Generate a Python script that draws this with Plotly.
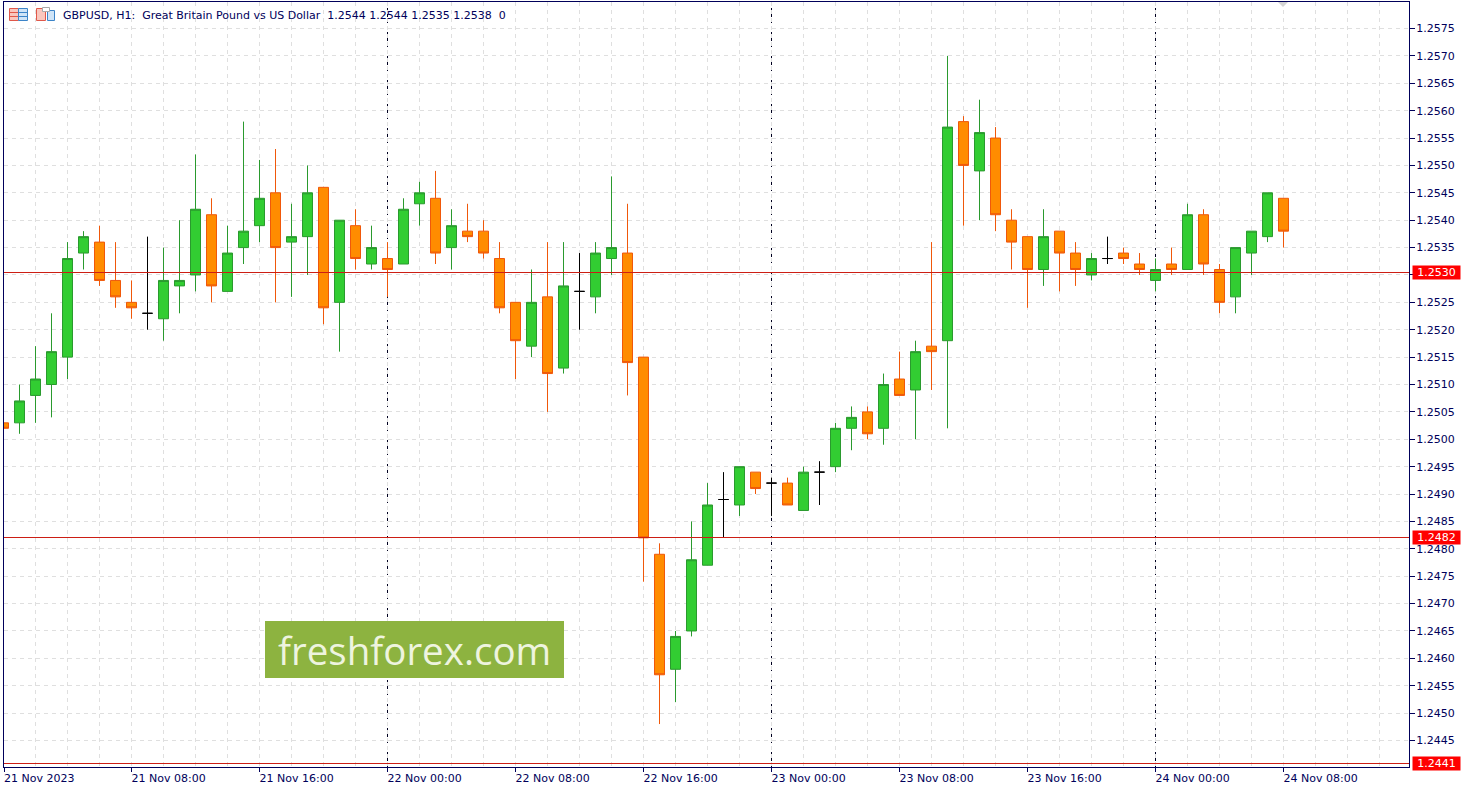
import plotly.graph_objects as go
from datetime import datetime, timedelta

# ---- data ----
start_time = "2023-11-21 00:00"
opens = [1.2503,1.2503,1.2508,1.2510,1.2515,1.2534,1.2536,1.2529,1.2525,1.2523,1.2522,1.2528,1.2530,1.2541,1.2527,1.2535,1.2539,1.2545,1.2536,1.2537,1.2546,1.2525,1.2539,1.2532,1.2533,
         1.2532,1.2543,1.2544,1.2535,1.2538,1.2538,1.2533,1.2525,1.2517,1.2526,1.2513,1.2527,1.2526,1.2533,1.2534,1.2515,1.2479,1.2458,1.2465,1.2477,1.2489,1.2488,1.2494,1.2492,1.2492,
         1.2487,1.2494,1.2495,1.2502,1.2505,1.2502,1.2511,1.2509,1.2517,1.2518,1.2558,1.2549,1.2555,1.2540,1.2537,1.2531,1.2538,1.2534,1.2530,1.2533,1.2534,1.2532,1.2529,1.2532,1.2531,
         1.2541,1.2531,1.2526,1.2534,1.2537,1.2544]
highs = [1.2503,1.2510,1.2517,1.2523,1.2536,1.2538,1.2539,1.2536,1.2529,1.2537,1.2535,1.2540,1.2552,1.2544,1.2539,1.2558,1.2551,1.2553,1.2543,1.2550,1.2546,1.2540,1.2542,1.2539,1.2536,
         1.2544,1.2547,1.2549,1.2542,1.2543,1.2540,1.2536,1.2525,1.2531,1.2536,1.2536,1.2534,1.2536,1.2548,1.2543,1.2515,1.2481,1.2465,1.2485,1.2492,1.2494,1.2495,1.2494,1.2493,1.2493,
         1.2495,1.2496,1.2503,1.2506,1.2506,1.2512,1.2516,1.2518,1.2536,1.2570,1.2559,1.2562,1.2557,1.2542,1.2537,1.2542,1.2538,1.2536,1.2534,1.2537,1.2535,1.2534,1.2533,1.2535,1.2543,
         1.2542,1.2532,1.2535,1.2538,1.2545,1.2544]
lows = [1.2502,1.2501,1.2503,1.2504,1.2511,1.2531,1.2528,1.2524,1.2522,1.2520,1.2518,1.2523,1.2527,1.2525,1.2527,1.2532,1.2536,1.2525,1.2526,1.2530,1.2521,1.2516,1.2531,1.2531,1.2526,
        1.2532,1.2539,1.2532,1.2531,1.2536,1.2533,1.2523,1.2511,1.2515,1.2505,1.2512,1.2520,1.2523,1.2530,1.2508,1.2474,1.2448,1.2452,1.2464,1.2477,1.2482,1.2486,1.2490,1.2486,1.2488,
        1.2487,1.2488,1.2494,1.2498,1.2500,1.2499,1.2508,1.2500,1.2509,1.2502,1.2539,1.2540,1.2538,1.2531,1.2524,1.2528,1.2527,1.2528,1.2529,1.2532,1.2532,1.2530,1.2527,1.2530,1.2531,
        1.2530,1.2523,1.2523,1.2530,1.2536,1.2535]
closes = [1.2502,1.2507,1.2511,1.2516,1.2533,1.2537,1.2529,1.2526,1.2524,1.2523,1.2529,1.2529,1.2542,1.2528,1.2534,1.2538,1.2544,1.2535,1.2537,1.2545,1.2524,1.2540,1.2533,1.2535,1.2531,
          1.2542,1.2545,1.2534,1.2539,1.2537,1.2534,1.2524,1.2518,1.2525,1.2512,1.2528,1.2527,1.2534,1.2535,1.2514,1.2482,1.2457,1.2464,1.2478,1.2488,1.2489,1.2495,1.2491,1.2492,1.2488,
          1.2494,1.2494,1.2502,1.2504,1.2501,1.2510,1.2508,1.2516,1.2516,1.2557,1.2550,1.2556,1.2541,1.2536,1.2531,1.2537,1.2534,1.2531,1.2533,1.2533,1.2533,1.2531,1.2531,1.2531,1.2541,
          1.2532,1.2525,1.2535,1.2538,1.2545,1.2538]

price_ticks = [1.2445,1.2450,1.2455,1.2460,1.2465,1.2470,1.2475,1.2480,1.2485,1.2490,1.2495,1.2500,1.2505,1.2510,1.2515,1.2520,1.2525,1.2530,1.2535,1.2540,1.2545,1.2550,1.2555,1.2560,1.2565,1.2570,1.2575]
price_labels = ["1.2445","1.2450","1.2455","1.2460","1.2465","1.2470","1.2475","1.2480","1.2485","1.2490","1.2495","1.2500","1.2505","1.2510","1.2515","1.2520","1.2525","","1.2535","1.2540","1.2545","1.2550","1.2555","1.2560","1.2565","1.2570","1.2575"]
time_ticks = ["2023-11-21 00:00","2023-11-21 08:00","2023-11-21 16:00","2023-11-22 00:00","2023-11-22 08:00","2023-11-22 16:00","2023-11-23 00:00","2023-11-23 08:00","2023-11-23 16:00","2023-11-24 00:00","2023-11-24 08:00"]
time_labels = ["21 Nov 2023","21 Nov 08:00","21 Nov 16:00","22 Nov 00:00","22 Nov 08:00","22 Nov 16:00","23 Nov 00:00","23 Nov 08:00","23 Nov 16:00","24 Nov 00:00","24 Nov 08:00"]
day_separators = ["2023-11-22 00:00","2023-11-23 00:00","2023-11-24 00:00"]
level_values = [1.2530449,1.2482062,1.2440798]
level_labels = ["1.2530","1.2482","1.2441"]
header_text = "GBPUSD, H1:\u00a0\u00a0Great Britain Pound vs US Dollar\u00a0\u00a01.2544 1.2544 1.2535 1.2538\u00a0\u00a00"
watermark_text = "freshforex.com"

# ---- page geometry ----
W, H = 1474, 790
L, R, T, B = 4, 1409, 2, 767
def px(x): return (x - L) / (R - L)
def py(y): return (B - y) / (B - T)

NAVY = "#00005A"
GRID = "#DFDFDF"
FONT = "DejaVu Sans"

t0 = datetime.strptime(start_time, "%Y-%m-%d %H:%M")
times = [t0 + timedelta(hours=i) for i in range(len(opens))]
x_start = t0 + timedelta(hours=0.5 / 16)
x_end = x_start + timedelta(hours=(R - L) / 16)
tick_positions = [x_start] + time_ticks[1:]   # the first tick sits on the left edge of the frame

body = [i for i in range(len(opens)) if opens[i] != closes[i]]
doji = [i for i in range(len(opens)) if opens[i] == closes[i]]

def pick(a, idx):
    return [a[i] for i in idx]

fig = go.Figure()
fig.add_trace(go.Candlestick(
    x=pick(times, body), open=pick(opens, body), high=pick(highs, body), low=pick(lows, body), close=pick(closes, body),
    whiskerwidth=0,
    increasing=dict(line=dict(color="#2A9A2E", width=1), fillcolor="#32CD32"),
    decreasing=dict(line=dict(color="#F0580A", width=1), fillcolor="#FF8C00"),
    showlegend=False))
fig.add_trace(go.Candlestick(
    x=pick(times, doji), open=pick(opens, doji), high=pick(highs, doji), low=pick(lows, doji), close=pick(closes, doji),
    whiskerwidth=0,
    increasing=dict(line=dict(color="#000000", width=1), fillcolor="#000000"),
    decreasing=dict(line=dict(color="#000000", width=1), fillcolor="#000000"),
    showlegend=False))

shapes = []
for d in day_separators:
    shapes.append(dict(type="line", xref="x", yref="paper", x0=d, x1=d, y0=0, y1=1, layer="below",
                       line=dict(color="#000020", width=1, dash="3px,3px")))
for v in level_values:
    shapes.append(dict(type="line", xref="paper", yref="y", x0=0, x1=1, y0=v, y1=v, layer="above",
                       line=dict(color="#CC1E14", width=1)))
# watermark plate
shapes.append(dict(type="rect", xref="paper", yref="paper", x0=px(265), x1=px(564), y0=py(678), y1=py(621),
                   layer="above", fillcolor="#8DB340", line=dict(width=0)))
# scroll marker
shapes.append(dict(type="path", xref="paper", yref="paper", layer="above",
                   path=f"M {px(1278)} {py(2)} L {px(1288)} {py(2)} L {px(1283)} {py(7)} Z",
                   fillcolor="#D4D4D4", line=dict(width=0)))
# header icons
def box(x0, y0, x1, y1, fill, line):
    shapes.append(dict(type="rect", xref="paper", yref="paper", x0=px(x0), x1=px(x1), y0=py(y1), y1=py(y0),
                       layer="above", fillcolor=fill, line=dict(color=line, width=1)))
box(9.5, 8.5, 18.5, 20.5, "#F9C7BE", "#E0584A")
box(18.5, 8.5, 27.5, 20.5, "#CFE4F7", "#3C84C8")
for yy in (12.5, 16.5):
    shapes.append(dict(type="line", xref="paper", yref="paper", x0=px(10), x1=px(18), y0=py(yy), y1=py(yy),
                       layer="above", line=dict(color="#E0584A", width=1)))
    shapes.append(dict(type="line", xref="paper", yref="paper", x0=px(19), x1=px(27), y0=py(yy), y1=py(yy),
                       layer="above", line=dict(color="#3C84C8", width=1)))
box(36.5, 8.5, 45.5, 20.5, "#F9C7BE", "#E0584A")
box(47.5, 10.5, 54.5, 20.5, "#CFE4F7", "#3C84C8")
box(42.5, 7.5, 49.5, 11.5, "#FFFFFF", "#A8A8A8")

annotations = [
    dict(text=header_text, xref="paper", yref="paper", x=px(60.5), y=py(15.5), xanchor="left", yanchor="middle",
         showarrow=False, font=dict(family=FONT, size=11, color=NAVY)),
    dict(text=watermark_text, xref="paper", yref="paper", x=px(414.5), y=py(649.5), xanchor="center", yanchor="middle",
         showarrow=False, font=dict(family="Open Sans", size=38.5, color="#EEF4DF")),
]
for v, lab in zip(level_values, level_labels):
    annotations.append(dict(text=lab, xref="paper", yref="y", x=px(1412), y=v, xanchor="left", yanchor="middle",
                            showarrow=False, width=47, height=13, align="center", borderpad=0,
                            bgcolor="#FF0000", font=dict(family=FONT, size=11, color="#FFFFFF")))

top_price = 1.257984
bottom_price = 1.244016

fig.update_layout(
    width=W, height=H, autosize=False,
    margin=dict(l=L, r=W - R, t=T, b=H - B, pad=0),
    paper_bgcolor="#FFFFFF", plot_bgcolor="#FFFFFF",
    boxgap=0.375, boxgroupgap=0, boxmode="overlay",
    showlegend=False, shapes=shapes, annotations=annotations,
    font=dict(family=FONT, size=11, color=NAVY),
    xaxis=dict(
        type="date", range=[x_start, x_end], rangeslider=dict(visible=False),
        tickmode="array", tickvals=tick_positions, ticktext=time_labels,
        ticks="outside", ticklen=4, tickcolor=NAVY, tickwidth=1,
        ticklabelposition="outside right", ticklabelshift=-1, ticklabelstandoff=1,
        tickfont=dict(family=FONT, size=11, color=NAVY),
        showline=True, linecolor=NAVY, linewidth=1, mirror=True,
        showgrid=True, gridcolor=GRID, griddash="4px,4px", gridwidth=1, zeroline=False,
        minor=dict(tick0=start_time, dtick=7200000, showgrid=True, gridcolor=GRID, griddash="4px,4px", gridwidth=1, ticks=""),
    ),
    yaxis=dict(
        side="right", range=[bottom_price, top_price], tickmode="array", tickvals=price_ticks,
        ticktext=price_labels,
        ticks="outside", ticklen=5, tickcolor=NAVY, tickwidth=1, ticklabelstandoff=-1,
        tickfont=dict(family=FONT, size=11, color=NAVY),
        showline=True, linecolor=NAVY, linewidth=1, mirror=True,
        showgrid=True, gridcolor=GRID, griddash="4px,4px", gridwidth=1, zeroline=False,
    ),
)

fig.write_html("out.html", config=dict(displayModeBar=False),
               post_script="document.body.style.margin='0';document.documentElement.style.overflow='hidden';")
